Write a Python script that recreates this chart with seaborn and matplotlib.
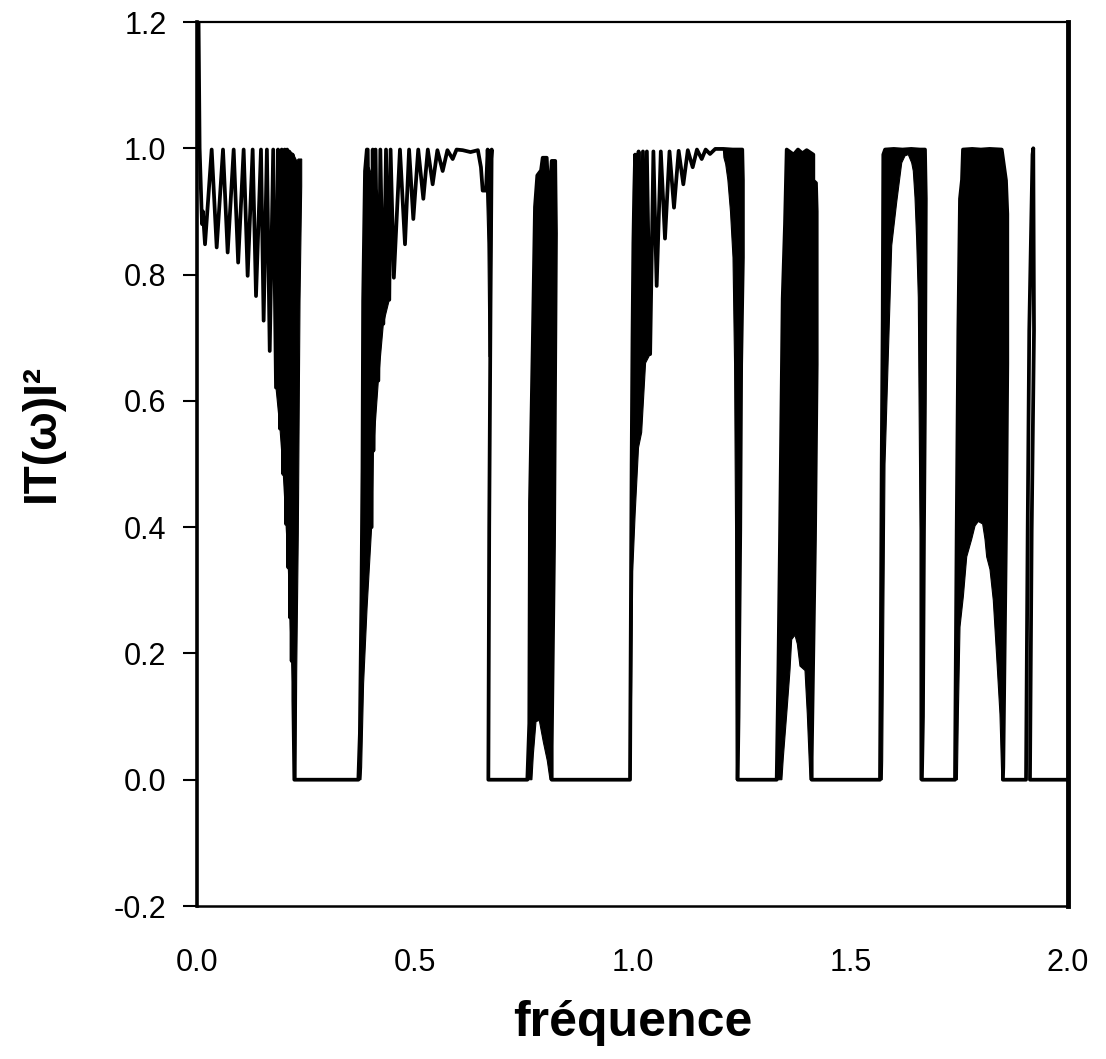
import matplotlib
matplotlib.use("Agg")
import matplotlib.pyplot as plt
import numpy as np
import pandas as pd
import seaborn as sns

# ---------------- data ----------------
# Transmission |T(w)|^2 versus frequency, traced as one path (outer edges of bands)
path_a_freq = [0.003, 0.006, 0.0115, 0.0135, 0.0184, 0.0337, 0.0452, 0.0597, 0.0704, 0.0842,
               0.0945, 0.1071, 0.1163, 0.1278, 0.1355, 0.1469, 0.153, 0.1605, 0.167, 0.175,
               0.1814, 0.186, 0.1906, 0.1945, 0.1982, 0.2015, 0.2044, 0.207, 0.2097, 0.2115,
               0.2135, 0.2155, 0.2174, 0.2195, 0.2212, 0.2235]
path_a_T = [1.25, 1.0, 0.88, 0.90, 0.848, 0.998, 0.843, 0.998, 0.835, 0.998,
            0.819, 0.998, 0.798, 0.998, 0.766, 0.998, 0.727, 0.998, 0.679, 0.998,
            0.621, 0.998, 0.556, 0.998, 0.484, 0.998, 0.405, 0.998, 0.336, 0.995,
            0.257, 0.99, 0.188, 0.99, 0.125, 0.0]

path_b_freq = [0.3705, 0.374, 0.3775, 0.380, 0.3815, 0.3858, 0.390, 0.392, 0.401, 0.4035,
               0.405, 0.410, 0.4164, 0.421, 0.4279, 0.434, 0.4415, 0.4445, 0.452, 0.466,
               0.4776, 0.487, 0.4967, 0.508, 0.5197, 0.530, 0.5411, 0.552, 0.5641, 0.575,
               0.5871, 0.596, 0.61, 0.628, 0.645, 0.652, 0.656, 0.6636, 0.6674, 0.671,
               0.6766, 0.674, 0.671, 0.669]
path_b_T = [0.0, 0.073, 0.284, 0.494, 0.758, 0.964, 0.998, 0.998, 0.40, 0.998,
            0.521, 0.998, 0.632, 0.998, 0.722, 0.998, 0.76, 0.998, 0.795, 0.998,
            0.848, 0.998, 0.888, 0.998, 0.920, 0.998, 0.943, 0.997, 0.964, 0.997,
            0.983, 0.998, 0.997, 0.994, 0.997, 0.97, 0.933, 0.933, 0.998, 0.933,
            0.998, 0.75, 0.4, 0.0]

path_c_freq = [0.7585, 0.763, 0.7646, 0.7708, 0.7761, 0.7814, 0.79, 0.7938, 0.803, 0.806,
               0.8076, 0.81, 0.8145, 0.8225, 0.8243, 0.8198, 0.8145, 0.8145]
path_c_T = [0.0, 0.089, 0.44, 0.681, 0.907, 0.957, 0.965, 0.985, 0.985, 0.94,
            0.93, 0.93, 0.98, 0.98, 0.865, 0.37, 0.053, 0.0]

path_d_freq = [0.9943, 0.9965, 0.998, 1.0, 1.002, 1.004, 1.006, 1.010, 1.014, 1.019,
               1.024, 1.0287, 1.033, 1.0405, 1.048, 1.0555, 1.065, 1.0746, 1.085, 1.0953,
               1.106, 1.1167, 1.127, 1.1382, 1.148, 1.1589, 1.168, 1.178, 1.19, 1.2085,
               1.23, 1.252, 1.2535, 1.2535, 1.2495, 1.2474, 1.2435, 1.2415]
path_d_T = [0.0, 0.3, 0.5, 0.7, 0.85, 0.93, 0.99, 0.75, 0.995, 0.70,
            0.995, 0.69, 0.995, 0.674, 0.995, 0.782, 0.995, 0.857, 0.995, 0.906,
            0.996, 0.943, 0.997, 0.970, 0.998, 0.983, 0.998, 0.991, 0.999, 0.999,
            0.998, 0.998, 0.95, 0.827, 0.658, 0.394, 0.1, 0.0]

path_e_freq = [1.3311, 1.335, 1.3387, 1.3449, 1.3502, 1.3541, 1.37, 1.38, 1.39, 1.40,
               1.4152, 1.4152, 1.4213, 1.423, 1.423, 1.419, 1.4115, 1.4115]
path_e_T = [0.0, 0.173, 0.38, 0.762, 0.88, 0.998, 0.99, 0.998, 0.992, 0.997,
            0.99, 0.949, 0.945, 0.90, 0.658, 0.38, 0.035, 0.0]

path_f_freq = [1.5683, 1.5705, 1.5722, 1.5745, 1.5759, 1.58, 1.60, 1.62, 1.64, 1.66,
               1.6716, 1.6735, 1.6715, 1.6693, 1.667, 1.6645]
path_f_T = [0.0, 0.25, 0.499, 0.728, 0.99, 0.998, 0.999, 0.998, 0.999, 0.998,
            0.998, 0.92, 0.6, 0.394, 0.1, 0.0]

path_g_freq = [1.7405, 1.7444, 1.7482, 1.752, 1.7566, 1.7589, 1.78, 1.80, 1.82, 1.8478,
               1.8576, 1.8606, 1.8606, 1.8576, 1.8514, 1.8505]
path_g_T = [0.0, 0.394, 0.711, 0.92, 0.95, 0.998, 0.999, 0.998, 0.999, 0.998,
            0.949, 0.896, 0.659, 0.394, 0.02, 0.0]

path_h_freq = [1.9036, 1.9074, 1.911, 1.9185, 1.9203, 1.9219, 1.9166, 1.9127, 2.0]
path_h_T = [0.0, 0.394, 0.711, 0.99, 1.0, 0.711, 0.394, 0.0, 0.0]

# Dense (unresolved) fringe regions, outlines
dense_a_freq = [0.198, 0.206, 0.215, 0.222, 0.229, 0.2326, 0.2404, 0.2404, 0.2365, 0.2326,
                0.2289, 0.2273, 0.2235, 0.2212, 0.2174, 0.2135, 0.2097, 0.2044, 0.1982,
                0.1906, 0.1814, 0.179, 0.1906]
dense_a_T = [0.97, 0.998, 0.995, 0.99, 0.98, 0.983, 0.983, 0.94, 0.758, 0.39,
             0.17, 0.0, 0.0, 0.125, 0.188, 0.257, 0.336, 0.405, 0.484,
             0.556, 0.621, 0.75, 0.9]

dense_b_freq = [0.3705, 0.374, 0.3775, 0.380, 0.3815, 0.3858, 0.395, 0.405, 0.415, 0.425,
                0.435, 0.4445, 0.4415, 0.4279, 0.4164, 0.405, 0.401, 0.3905, 0.3825, 0.378,
                0.3765]
dense_b_T = [0.0, 0.073, 0.284, 0.494, 0.758, 0.964, 0.97, 0.95, 0.93, 0.90,
             0.85, 0.80, 0.76, 0.722, 0.632, 0.521, 0.40, 0.272, 0.152, 0.02,
             0.0]

dense_b2_freq = [0.6636, 0.6674, 0.6766, 0.6775, 0.6745, 0.6705, 0.668, 0.665]
dense_b2_T = [0.933, 0.998, 0.998, 0.93, 0.67, 0.67, 0.85, 0.93]

inner_c_freq = [0.8106, 0.8044, 0.7952, 0.786, 0.7784, 0.7723, 0.769]
inner_c_T = [0.0, 0.03, 0.06, 0.094, 0.092, 0.04, 0.0]

dense_d1_freq = [0.9943, 0.9965, 0.998, 1.0, 1.002, 1.004, 1.01, 1.02, 1.03, 1.0405,
                 1.0405, 1.03, 1.021, 1.0138, 1.006, 1.0005, 0.998, 0.9955]
dense_d1_T = [0.0, 0.3, 0.5, 0.7, 0.85, 0.93, 0.92, 0.88, 0.80, 0.72,
              0.674, 0.66, 0.55, 0.526, 0.42, 0.33, 0.15, 0.0]

dense_d2_freq = [1.2085, 1.252, 1.2535, 1.2535, 1.2495, 1.2474, 1.2435, 1.2415, 1.238,
                 1.2367, 1.2344, 1.2308, 1.225, 1.219, 1.214, 1.21]
dense_d2_T = [0.999, 0.998, 0.95, 0.827, 0.658, 0.394, 0.1, 0.0, 0.0,
              0.394, 0.658, 0.827, 0.90, 0.95, 0.975, 0.985]

inner_e_freq = [1.4076, 1.4014, 1.3961, 1.3846, 1.3785, 1.3731, 1.3655, 1.3616, 1.3541,
                1.3463, 1.343]
inner_e_T = [0.0, 0.104, 0.173, 0.18, 0.215, 0.229, 0.222, 0.173, 0.104, 0.035, 0.0]

inner_f_freq = [1.6602, 1.6602, 1.6563, 1.6526, 1.6487, 1.6448, 1.6411, 1.6333, 1.6257,
                1.6182, 1.6067, 1.5952, 1.5874, 1.5798, 1.5744, 1.5735]
inner_f_T = [0.0, 0.394, 0.764, 0.854, 0.922, 0.964, 0.977, 0.99, 0.988,
             0.977, 0.915, 0.846, 0.672, 0.5, 0.03, 0.0]

inner_g_freq = [1.848, 1.8438, 1.8363, 1.8285, 1.8209, 1.8133, 1.8094, 1.8041, 1.794,
                1.7865, 1.7789, 1.7674, 1.7598, 1.752, 1.7482, 1.746]
inner_g_T = [0.0, 0.104, 0.194, 0.284, 0.333, 0.353, 0.381, 0.405, 0.409,
             0.402, 0.381, 0.353, 0.291, 0.242, 0.104, 0.0]

x_ticks = [0.0, 0.5, 1.0, 1.5, 2.0]
x_tick_labels = ["0.0", "0.5", "1.0", "1.5", "2.0"]
y_ticks = [-0.2, 0.0, 0.2, 0.4, 0.6, 0.8, 1.0, 1.2]
y_tick_labels = ["-0.2", "0.0", "0.2", "0.4", "0.6", "0.8", "1.0", "1.2"]
x_label = "fréquence"
y_label = "IT(ω)I²"

# ---------------- figure ----------------
sns.set_style("white")
plt.rcParams["font.family"] = ["Liberation Sans", "DejaVu Sans"]
plt.rcParams["text.color"] = "black"
plt.rcParams["axes.labelcolor"] = "black"

W, H = 1106, 1059
fig = plt.figure(figsize=(W / 100, H / 100), dpi=100)
ax = fig.add_axes([197 / W, 1 - 906 / H, (1068 - 197) / W, (906 - 22) / H])

path_freq = (path_a_freq + path_b_freq + path_c_freq + path_d_freq + path_e_freq
             + path_f_freq + path_g_freq + path_h_freq)
path_T = (path_a_T + path_b_T + path_c_T + path_d_T + path_e_T
          + path_f_T + path_g_T + path_h_T)
df = pd.DataFrame({"freq": path_freq, "T": path_T})

polys = [
    (dense_a_freq, dense_a_T),
    (dense_b_freq, dense_b_T),
    (dense_b2_freq, dense_b2_T),
    (path_c_freq + inner_c_freq, path_c_T + inner_c_T),
    (dense_d1_freq, dense_d1_T),
    (dense_d2_freq, dense_d2_T),
    (path_e_freq + inner_e_freq, path_e_T + inner_e_T),
    (path_f_freq + inner_f_freq, path_f_T + inner_f_T),
    (path_g_freq + inner_g_freq, path_g_T + inner_g_T),
]
for px, py in polys:
    ax.fill(px, py, color="black", lw=0.8, zorder=2)

sns.lineplot(data=df, x="freq", y="T", sort=False, estimator=None,
             color="black", lw=2.7, ax=ax, zorder=3)

ax.set_xlim(0.0, 2.0)
ax.set_ylim(-0.2, 1.2)
ax.set_xticks(x_ticks)
ax.set_xticklabels(x_tick_labels)
ax.set_yticks(y_ticks)
ax.set_yticklabels(y_tick_labels)
ax.tick_params(axis="x", bottom=False, length=0, pad=30, labelsize=22, colors="black")
ax.tick_params(axis="y", left=True, length=10, width=1.5, direction="out", pad=12,
               labelsize=22, colors="black")

for side, lw in {"left": 2.6, "bottom": 1.8, "top": 1.6, "right": 3.5}.items():
    ax.spines[side].set_visible(True)
    ax.spines[side].set_color("black")
    ax.spines[side].set_linewidth(lw)

ax.set_xlabel(x_label, fontsize=36, fontweight="bold", color="black")
ax.set_ylabel(y_label, fontsize=33, fontweight="bold", color="black")
ax.xaxis.set_label_coords(0.5, -0.106)
ax.yaxis.set_label_coords(-0.1527, 0.535)
ax.grid(False)

fig.savefig("out.png", dpi=100, facecolor="white")
